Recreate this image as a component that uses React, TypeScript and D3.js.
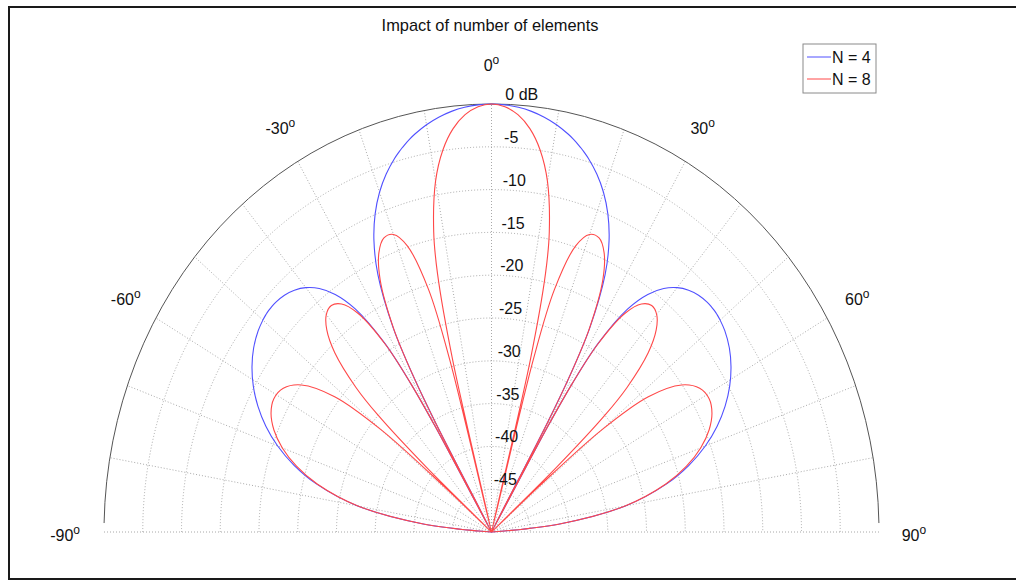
import React from 'react';
import * as d3 from 'd3';

// Array-factor patterns (dB) of uniform broadside arrays, half-wavelength spacing.
const TITLE = 'Impact of number of elements';
const SERIES_LABELS = ['N = 4', 'N = 8'];

const ANGLES_DEG = [
  -90, -88, -86, -84, -80, -76, -73, -70, -67, -64, -61, -58, -55, -52, -50, -49, -48.59, -48, -47, -46,
  -44, -42, -40, -38, -36, -34, -32, -31, -30.5, -30, -29.5, -29, -28, -26, -24, -22, -20, -18, -16, -15,
  -14.48, -14, -13, -12, -10, -8, -6, -4, -2, 0,
  2, 4, 6, 8, 10, 12, 13, 14, 14.48, 15, 16, 18, 20, 22, 24, 26, 28, 29, 29.5, 30,
  30.5, 31, 32, 34, 36, 38, 40, 42, 44, 46, 47, 48, 48.59, 49, 50, 52, 55, 58, 61, 64,
  67, 70, 73, 76, 80, 84, 86, 88, 90,
];

const GAIN_N4_DB = [
  -Infinity, -60.4, -48.35, -41.31, -32.46, -26.66, -23.36, -20.64, -18.37, -16.46, -14.86, -13.56, -12.53, -11.8, -11.49, -11.38, -11.35, -11.32, -11.3, -11.33,
  -11.54, -11.99, -12.74, -13.9, -15.69, -18.56, -23.99, -29.74, -35.63, -Infinity, -35.38, -29.24, -22.99, -16.56, -12.7, -9.92, -7.76, -6.03, -4.61, -4.0,
  -3.7, -3.44, -2.93, -2.47, -1.69, -1.07, -0.59, -0.26, -0.07, 0,
  -0.07, -0.26, -0.59, -1.07, -1.69, -2.47, -2.93, -3.44, -3.7, -4.0, -4.61, -6.03, -7.76, -9.92, -12.7, -16.56, -22.99, -29.24, -35.38, -Infinity,
  -35.63, -29.74, -23.99, -18.56, -15.69, -13.9, -12.74, -11.99, -11.54, -11.33, -11.3, -11.32, -11.35, -11.38, -11.49, -11.8, -12.53, -13.56, -14.86, -16.46,
  -18.37, -20.64, -23.36, -26.66, -32.46, -41.31, -48.35, -60.4, -Infinity,
];

const GAIN_N8_DB = [
  -Infinity, -60.4, -48.35, -41.31, -32.5, -26.82, -23.69, -21.28, -19.5, -18.35, -17.89, -18.32, -20.05, -24.32, -31.43, -41.96, -Infinity, -38.64, -29.95, -25.69,
  -20.89, -18.24, -16.84, -16.43, -17.08, -19.18, -24.14, -29.78, -35.64, -Infinity, -35.39, -29.28, -23.15, -17.23, -14.28, -12.95, -13.01, -14.85, -20.51, -29.13,
  -Infinity, -29.33, -19.03, -14.13, -8.41, -4.93, -2.62, -1.13, -0.28, 0,
  -0.28, -1.13, -2.62, -4.93, -8.41, -14.13, -19.03, -29.33, -Infinity, -29.13, -20.51, -14.85, -13.01, -12.95, -14.28, -17.23, -23.15, -29.28, -35.39, -Infinity,
  -35.64, -29.78, -24.14, -19.18, -17.08, -16.43, -16.84, -18.24, -20.89, -25.69, -29.95, -38.64, -Infinity, -41.96, -31.43, -24.32, -20.05, -18.32, -17.89, -18.35,
  -19.5, -21.28, -23.69, -26.82, -32.5, -41.31, -48.35, -60.4, -Infinity,
];

const DB_TICKS = [0, -5, -10, -15, -20, -25, -30, -35, -40, -45];
const DB_RINGS = [-5, -10, -15, -20, -25, -30, -35, -40, -45];
const ANGLE_LABELS = [-90, -60, -30, 0, 30, 60, 90];
const SPOKE_ANGLES = [-80, -70, -60, -50, -40, -30, -20, -10, 0, 10, 20, 30, 40, 50, 60, 70, 80];

const COLORS = ['#5050ff', '#ff4848'];
const FONT = '"Liberation Sans", Arial, Helvetica, sans-serif';

export default function App() {
  const W = 1016;
  const H = 581;
  const cx = 491.5;
  const cy = 532;
  const rx = 387.5;
  const ry = 428;

  const rScale = d3.scaleLinear().domain([-50, 0]).range([0, 1]).clamp(true);
  const rad = (deg: number) => (deg * Math.PI) / 180;
  const px = (deg: number, r: number) => cx + rx * r * Math.sin(rad(deg));
  const py = (deg: number, r: number) => cy - ry * r * Math.cos(rad(deg));

  const line = d3
    .line<[number, number]>()
    .x((d) => px(d[0], rScale(d[1])))
    .y((d) => py(d[0], rScale(d[1])))
    .curve(d3.curveCatmullRom.alpha(0.5));

  const series = [GAIN_N4_DB, GAIN_N8_DB].map((g) =>
    ANGLES_DEG.map((a, i) => [a, g[i]] as [number, number])
  );

  const ring = (r: number) =>
    `M${cx - rx * r},${cy} A${rx * r},${ry * r} 0 0 1 ${cx + rx * r},${cy}`;
  const outerEdge = 88.8;
  const outer = `M${px(-outerEdge, 1)},${py(-outerEdge, 1)} A${rx},${ry} 0 0 1 ${px(outerEdge, 1)},${py(outerEdge, 1)}`;

  const gridStyle = { stroke: '#939393', strokeWidth: 0.8, strokeDasharray: '1 2', fill: 'none' };
  const labelR = 1.09;
  const tickAngle = 1.9;

  return (
    <svg
      width={W}
      height={H}
      viewBox={`0 0 ${W} ${H}`}
      style={{ position: 'absolute', left: 0, top: 0, background: '#fff' }}
      fontFamily={FONT}
    >
      <rect x={0} y={0} width={W} height={H} fill="#fff" />
      <rect x={9} y={7} width={W + 20} height={572} fill="none" stroke="#1a1a1a" strokeWidth={2} />

      <text x={490} y={31} textAnchor="middle" fontSize={16.4} fill="#111">
        {TITLE}
      </text>

      {/* dotted grid */}
      {DB_RINGS.map((db) => (
        <path key={db} d={ring(rScale(db))} style={gridStyle} />
      ))}
      {SPOKE_ANGLES.map((a) => (
        <line key={a} x1={cx} y1={cy} x2={px(a, 1)} y2={py(a, 1)} style={gridStyle} />
      ))}
      <line x1={cx - rx} y1={cy} x2={cx + rx} y2={cy} style={gridStyle} />
      <path d={outer} fill="none" stroke="#555" strokeWidth={1} />

      {/* patterns */}
      {series.map((s, i) => (
        <path key={i} d={line(s) || ''} fill="none" stroke={COLORS[i]} strokeWidth={1.1} />
      ))}

      {/* radial dB labels */}
      {DB_TICKS.map((db) => {
        const r = rScale(db);
        return (
          <text key={db} x={px(tickAngle, r) + 1} y={py(tickAngle, r) - 4} fontSize={16} fill="#111">
            {db === 0 ? '0 dB' : `${db}`}
          </text>
        );
      })}

      {/* angle labels */}
      {ANGLE_LABELS.map((a) => (
        <text
          key={a}
          x={px(a, labelR) + (Math.abs(a) === 90 ? 2 * Math.sign(a) - 2 : 0)}
          y={py(a, labelR) + 6 + (Math.abs(a) === 90 ? 3 : 0)}
          textAnchor="middle"
          fontSize={16}
          fill="#111"
        >
          {a}
          <tspan fontSize={12} dy={-7}>o</tspan>
        </text>
      ))}

      {/* legend */}
      <g transform="translate(803,44)">
        <rect x={0} y={0} width={73} height={49} fill="#fff" stroke="#8a8a8a" strokeWidth={1} />
        {SERIES_LABELS.map((lab, i) => (
          <g key={lab} transform={`translate(0,${13 + i * 22})`}>
            <line x1={4} x2={28} y1={0} y2={0} stroke={COLORS[i]} strokeWidth={1} />
            <text x={29} y={6} fontSize={16} fill="#111">
              {lab}
            </text>
          </g>
        ))}
      </g>
    </svg>
  );
}
